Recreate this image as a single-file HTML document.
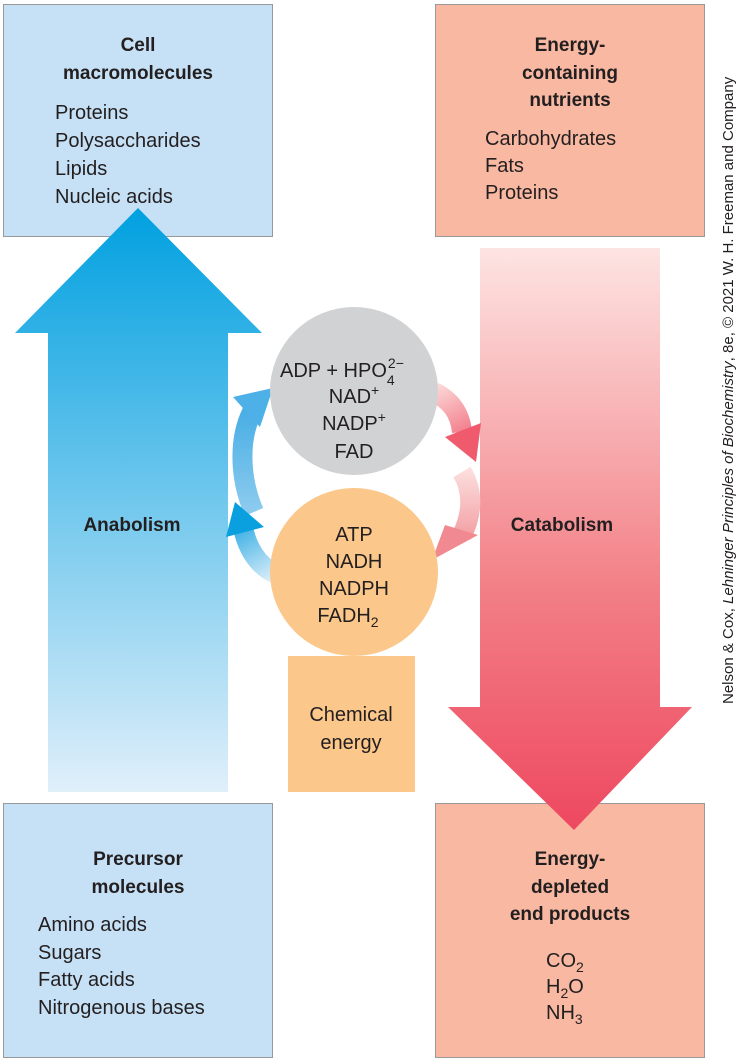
<!DOCTYPE html>
<html><head><meta charset="utf-8"><style>
body{margin:0;background:#fff;}
svg{display:block;font-family:"Liberation Sans",sans-serif;}
.b{font-weight:bold;font-size:19px;fill:#231f20;}
.t{font-size:20px;fill:#231f20;}
</style></head><body>
<svg width="737" height="1062" viewBox="0 0 737 1062">
<defs>
<linearGradient id="blue" x1="0" y1="0" x2="0" y2="1">
<stop offset="0" stop-color="#00a0e0"/><stop offset="1" stop-color="#e0effa"/></linearGradient>
<linearGradient id="red" x1="0" y1="0" x2="0" y2="1">
<stop offset="0" stop-color="#fde4e2"/><stop offset="0.6" stop-color="#f27d84"/><stop offset="1" stop-color="#ee4860"/></linearGradient>
<linearGradient id="bc1" gradientUnits="userSpaceOnUse" x1="0" y1="510" x2="0" y2="390"><stop offset="0" stop-color="#8ccbee"/><stop offset="1" stop-color="#3aa8e3"/></linearGradient>
<linearGradient id="bc2" gradientUnits="userSpaceOnUse" x1="275" y1="580" x2="232" y2="505"><stop offset="0" stop-color="#e0effa"/><stop offset="1" stop-color="#0099dd"/></linearGradient>
<linearGradient id="rc1" gradientUnits="userSpaceOnUse" x1="436" y1="385" x2="478" y2="462"><stop offset="0" stop-color="#fbdad8"/><stop offset="1" stop-color="#ee4860"/></linearGradient>
<linearGradient id="rc2" gradientUnits="userSpaceOnUse" x1="0" y1="470" x2="0" y2="560"><stop offset="0" stop-color="#fcdedd"/><stop offset="1" stop-color="#f08a90"/></linearGradient>
</defs>
<g>
<rect x="3.5" y="4.5" width="269" height="232" fill="#c6e0f5" stroke="#999"/>
<text class="b" x="138" y="51" text-anchor="middle">Cell</text>
<text class="b" x="138" y="79" text-anchor="middle">macromolecules</text>
<text class="t" x="55" y="119">Proteins</text><text class="t" x="55" y="147">Polysaccharides</text>
<text class="t" x="55" y="175">Lipids</text><text class="t" x="55" y="203">Nucleic acids</text></g>
<g>
<rect x="435.5" y="4.5" width="269" height="232" fill="#f8b8a2" stroke="#999"/>
<text class="b" x="570" y="51" text-anchor="middle">Energy-</text>
<text class="b" x="570" y="79" text-anchor="middle">containing</text>
<text class="b" x="570" y="106" text-anchor="middle">nutrients</text>
<text class="t" x="485" y="145">Carbohydrates</text><text class="t" x="485" y="172">Fats</text><text class="t" x="485" y="199">Proteins</text></g>
<g>
<rect x="3.5" y="803.5" width="269" height="254" fill="#c6e0f5" stroke="#999"/>
<text class="b" x="138" y="865" text-anchor="middle">Precursor</text>
<text class="b" x="138" y="893" text-anchor="middle">molecules</text>
<text class="t" x="38" y="931">Amino acids</text><text class="t" x="38" y="959">Sugars</text>
<text class="t" x="38" y="986">Fatty acids</text><text class="t" x="38" y="1014">Nitrogenous bases</text></g>
<g>
<rect x="435.5" y="803.5" width="269" height="254" fill="#f8b8a2" stroke="#999"/>
<text class="b" x="570" y="865" text-anchor="middle">Energy-</text>
<text class="b" x="570" y="893" text-anchor="middle">depleted</text>
<text class="b" x="570" y="920" text-anchor="middle">end products</text>
<text class="t" x="546" y="967">CO<tspan font-size="14" dy="5">2</tspan></text>
<text class="t" x="546" y="993">H<tspan font-size="14" dy="5">2</tspan><tspan dy="-5">O</tspan></text>
<text class="t" x="546" y="1019">NH<tspan font-size="14" dy="5">3</tspan></text></g>
<g>
<path d="M48,792 L48,333 L15,333 L138,208 L262,333 L228,333 L228,792 Z" fill="url(#blue)"/>
<text class="b" x="132" y="531" text-anchor="middle">Anabolism</text></g>
<g>
<path d="M480,248 L660,248 L660,707 L692,707 L574,830 L448,707 L480,707 Z" fill="url(#red)"/>
<text class="b" x="562" y="531" text-anchor="middle">Catabolism</text></g>
<g>
<path d="M254,512 C240,480 238,440 252,412" fill="none" stroke="url(#bc1)" stroke-width="20"/>
<polygon points="233,397 273,388 260,427" fill="#4db0e6"/></g>
<g>
<path d="M276,574 C258,566 246,548 242,522" fill="none" stroke="url(#bc2)" stroke-width="20"/>
<polygon points="226,537 235,502 264,527" fill="#0aa0e0"/></g>
<g>
<path d="M434,392 C450,400 460,412 462,432" fill="none" stroke="url(#rc1)" stroke-width="20"/>
<polygon points="445,437 481,423 476,462" fill="#ef5b6c"/></g>
<g>
<path d="M462,472 C474,492 472,515 462,535" fill="none" stroke="url(#rc2)" stroke-width="20"/>
<polygon points="445,525 478,535 432,560" fill="#f08a90"/></g>
<g>
<circle cx="354" cy="391" r="84" fill="#d1d2d4"/>
<text class="t" x="280" y="377">ADP + HPO<tspan font-size="14" dx="1" dy="-9">2−</tspan><tspan font-size="14" dx="-17" dy="17">4</tspan></text>
<text class="t" x="354" y="403" text-anchor="middle">NAD<tspan font-size="14" dy="-8">+</tspan></text>
<text class="t" x="354" y="430" text-anchor="middle">NADP<tspan font-size="14" dy="-8">+</tspan></text>
<text class="t" x="354" y="458" text-anchor="middle">FAD</text></g>
<g>
<circle cx="354" cy="572" r="84" fill="#fbc78a"/>
<text class="t" x="354" y="541" text-anchor="middle">ATP</text>
<text class="t" x="354" y="568" text-anchor="middle">NADH</text>
<text class="t" x="354" y="595" text-anchor="middle">NADPH</text>
<text class="t" x="348" y="622" text-anchor="middle">FADH<tspan font-size="14" dy="5">2</tspan></text></g>
<g>
<rect x="288" y="656" width="127" height="136" fill="#fbc78a"/>
<text class="t" x="351" y="721" text-anchor="middle">Chemical</text>
<text class="t" x="351" y="749" text-anchor="middle">energy</text></g>
<text transform="translate(733,704) rotate(-90)" font-size="15" fill="#231f20">Nelson &amp; Cox, <tspan font-style="italic">Lehninger Principles of Biochemistry</tspan>, 8e, © 2021 W. H. Freeman and Company</text>
</svg>
</body></html>
